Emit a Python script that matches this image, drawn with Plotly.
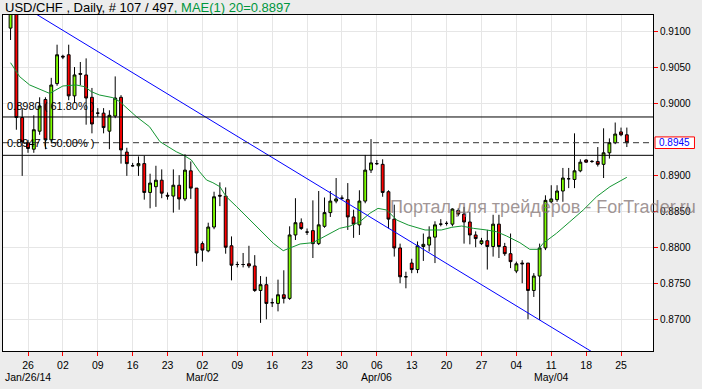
import plotly.graph_objects as go

# ---------------- data ----------------
bars = list(range(107))
open_ = [0.9104, 0.9128, 0.8980, 0.8945, 0.8936, 0.8961, 0.9005, 0.8949, 0.9027, 0.9065,
         0.9067, 0.9010, 0.9041, 0.9039, 0.9008, 0.8986, 0.8986, 0.8961, 0.8982, 0.9008,
         0.8932, 0.8913, 0.8913, 0.8916, 0.8876, 0.8884, 0.8893, 0.8872, 0.8871, 0.8886,
         0.8867, 0.8906, 0.8882, 0.8805, 0.8795, 0.8828, 0.8872, 0.8871, 0.8802, 0.8776,
         0.8776, 0.8777, 0.8774, 0.8740, 0.8748, 0.8723, 0.8722, 0.8734, 0.8729, 0.8817,
         0.8834, 0.8821, 0.8823, 0.8805, 0.8829, 0.8848, 0.8864, 0.8868, 0.8866, 0.8842,
         0.8831, 0.8864, 0.8907, 0.8916, 0.8915, 0.8877, 0.8839, 0.8799, 0.8759, 0.8778,
         0.8769, 0.8801, 0.8803, 0.8814, 0.8832, 0.8833, 0.8832, 0.8851, 0.8846, 0.8835,
         0.8817, 0.8805, 0.8809, 0.8801, 0.8832, 0.8801, 0.8791, 0.8767, 0.8778, 0.8778,
         0.8740, 0.8760, 0.8799, 0.8863, 0.8866, 0.8878, 0.8895, 0.8894, 0.8906, 0.8921,
         0.8919, 0.8919, 0.8915, 0.8931, 0.8945, 0.8960, 0.8956]
high = [0.9132, 0.9135, 0.8993, 0.8949, 0.8983, 0.9008, 0.9008, 0.9035, 0.9081, 0.9067,
        0.9081, 0.9050, 0.9057, 0.9062, 0.9021, 0.8993, 0.8993, 0.8990, 0.9037, 0.9011,
        0.8938, 0.8917, 0.8926, 0.8927, 0.8902, 0.8913, 0.8908, 0.8876, 0.8908, 0.8900,
        0.8929, 0.8919, 0.8882, 0.8808, 0.8834, 0.8877, 0.8890, 0.8883, 0.8815, 0.8780,
        0.8792, 0.8802, 0.8789, 0.8760, 0.8759, 0.8729, 0.8755, 0.8768, 0.8829, 0.8868,
        0.8840, 0.8826, 0.8865, 0.8878, 0.8869, 0.8878, 0.8896, 0.8872, 0.8889, 0.8852,
        0.8879, 0.8928, 0.8950, 0.8921, 0.8922, 0.8879, 0.8859, 0.8805, 0.8766, 0.8784,
        0.8808, 0.8819, 0.8829, 0.8836, 0.8839, 0.8836, 0.8854, 0.8854, 0.8856, 0.8849,
        0.8822, 0.8813, 0.8824, 0.8845, 0.8845, 0.8806, 0.8819, 0.8780, 0.8782, 0.8778,
        0.8764, 0.8805, 0.8872, 0.8886, 0.8886, 0.8910, 0.8910, 0.8958, 0.8922, 0.8922,
        0.8921, 0.8939, 0.8965, 0.8951, 0.8973, 0.8966, 0.8966]
low = [0.90875, 0.8963, 0.8899, 0.8931, 0.8931, 0.8956, 0.8936, 0.8945, 0.9024, 0.9061,
       0.9004, 0.9000, 0.9025, 0.8970, 0.8958, 0.8981, 0.8958, 0.8936, 0.8979, 0.8916,
       0.8899, 0.8912, 0.8899, 0.8866, 0.8854, 0.8856, 0.8868, 0.8866, 0.8848, 0.8852,
       0.8864, 0.8867, 0.8774, 0.8780, 0.8793, 0.8825, 0.8857, 0.8791, 0.8754, 0.8772,
       0.8772, 0.8771, 0.8738, 0.8695, 0.8700, 0.8717, 0.8711, 0.8722, 0.8727, 0.8810,
       0.8824, 0.8817, 0.8785, 0.8803, 0.8827, 0.8842, 0.8861, 0.8866, 0.8824, 0.8813,
       0.8817, 0.8861, 0.8903, 0.8914, 0.8870, 0.8826, 0.8787, 0.8750, 0.8743, 0.8764,
       0.8764, 0.8781, 0.8794, 0.8778, 0.8829, 0.8830, 0.8829, 0.8843, 0.8805, 0.8804,
       0.8800, 0.8803, 0.8769, 0.8787, 0.8785, 0.8788, 0.8771, 0.8764, 0.8750, 0.8700,
       0.8731, 0.8699, 0.8796, 0.8861, 0.8863, 0.8863, 0.8882, 0.8882, 0.8904, 0.8917,
       0.8917, 0.8912, 0.8896, 0.8923, 0.8943, 0.8954, 0.8939]
close = [0.9125, 0.8980, 0.8946, 0.8937, 0.8963, 0.8996, 0.8949, 0.9025, 0.9067, 0.9064,
         0.9010, 0.9039, 0.9040, 0.9007, 0.8971, 0.8986, 0.8966, 0.8983, 0.9007, 0.8935,
         0.8916, 0.8913, 0.8916, 0.8876, 0.8889, 0.8893, 0.8875, 0.8871, 0.8886, 0.8867,
         0.8907, 0.8882, 0.8792, 0.8796, 0.8828, 0.8870, 0.8871, 0.8800, 0.8775, 0.8776,
         0.8776, 0.8774, 0.8740, 0.8748, 0.8722, 0.8723, 0.8734, 0.8729, 0.8817, 0.8834,
         0.8826, 0.8821, 0.8805, 0.8831, 0.8848, 0.8864, 0.8867, 0.8868, 0.8842, 0.8832,
         0.8864, 0.8907, 0.8917, 0.8916, 0.8876, 0.8839, 0.8799, 0.8759, 0.8759, 0.8769,
         0.8802, 0.8804, 0.8814, 0.8831, 0.8832, 0.8833, 0.8853, 0.8846, 0.8835, 0.8817,
         0.8812, 0.8809, 0.8801, 0.8832, 0.8801, 0.8791, 0.8780, 0.8777, 0.8777, 0.8740,
         0.8760, 0.8799, 0.8865, 0.8867, 0.8878, 0.8896, 0.8895, 0.8906, 0.8918, 0.8918,
         0.8919, 0.8915, 0.8931, 0.8945, 0.8957, 0.8956, 0.8945]

# moving average (MAE(1) 20): bar position, value
ma_x = [0, 1.57, 3.29, 5.01, 6.73, 9.0, 11.3, 12.76, 13.9, 15.3, 17.6, 18.8, 21.65, 23.9,
        25.7, 28.5, 29.7, 31.1, 32.5, 33.7, 34.8, 36.0, 37.1, 38.9, 40.6, 42.9, 45.2, 46.9,
        48.0, 49.8, 52.0, 54.9, 56.6, 58.4, 60.1, 61.8, 63.2, 64.7, 66.4, 68.4, 71.3, 74.1,
        75.9, 77.6, 79.6, 81.9, 83.6, 85.3, 87.6, 89.3, 90.8, 91.6, 93.9, 96.2, 98.5, 100.8,
        103.1, 106]
ma_y = [0.9056, 0.90366, 0.90251, 0.90191, 0.90134, 0.90237, 0.90251, 0.90227, 0.90158,
        0.90112, 0.90075, 0.90019, 0.89811, 0.89672, 0.89464, 0.89325, 0.8928, 0.8921,
        0.89048, 0.88933, 0.88895, 0.8884, 0.88701, 0.88562, 0.88423, 0.88239, 0.88054,
        0.87952, 0.87985, 0.88045, 0.88063, 0.88193, 0.88262, 0.88294, 0.88354, 0.88471,
        0.88539, 0.88516, 0.88378, 0.88308, 0.88239, 0.88239, 0.88276, 0.88294, 0.88262,
        0.88239, 0.88215, 0.88156, 0.88063, 0.87971, 0.87971, 0.88054, 0.88193, 0.88354,
        0.88516, 0.88701, 0.8884, 0.8897]

# trend line anchors (bar position, price)
trend_x = [5.31, 91.0]
trend_y = [0.9119, 0.8699]

# horizontal levels
level_solid = [0.89807, 0.89275]
level_dashed = [0.8945]
fib_labels = ["0.8980 ( 61.80% )", "0.8947 ( 50.00% )"]
fib_label_y = [0.89807, 0.8945]

# axis ticks
tick_bars = [3, 9, 15, 21, 27, 33, 39, 45, 51, 57, 63, 69, 75, 81, 87, 93, 99, 105]
tick_text = ["26", "02", "09", "16", "23", "02", "09", "16", "23", "30",
             "06", "13", "20", "27", "04", "11", "18", "25"]
month_bars = [3, 33, 63, 93]
month_text = ["Jan/26/14", "Mar/02", "Apr/06", "May/04"]
price_ticks = [0.8700, 0.8750, 0.8800, 0.8850, 0.8900, 0.9000, 0.9050, 0.9100]
last_price = close[-1]

title_main = "USD/CHF , Daily, # 107 / 497"
title_ma = ", MAE(1) 20=0.8897"
watermark = "Портал для трейдеров - ForTrader.ru"

# ---------------- figure ----------------
XR = [-1.30, 110.5]
YR = [0.86560, 0.91222]

fig = go.Figure()

fig.add_trace(go.Scatter(
    x=ma_x, y=ma_y, mode="lines",
    line=dict(color="rgb(20,150,50)", width=1), hoverinfo="skip"))

# trend line extended across the plot (clipped by the axes)
slope = (trend_y[1] - trend_y[0]) / (trend_x[1] - trend_x[0])
tx = [XR[0] - 5, XR[1] + 5]
ty = [trend_y[0] + slope * (v - trend_x[0]) for v in tx]
fig.add_trace(go.Scatter(x=tx, y=ty, mode="lines",
                         line=dict(color="#0000FF", width=1), hoverinfo="skip"))

fig.add_trace(go.Candlestick(
    x=bars, open=open_, high=high, low=low, close=close,
    increasing=dict(fillcolor="#7FFF00", line=dict(color="black", width=1)),
    decreasing=dict(fillcolor="#FF0000", line=dict(color="black", width=1)),
    whiskerwidth=0, hoverinfo="skip"))

shapes = []
for lv in level_solid:
    shapes.append(dict(type="line", xref="paper", yref="y", x0=0, x1=1, y0=lv, y1=lv,
                       line=dict(color="black", width=1)))
for lv in level_dashed:
    shapes.append(dict(type="line", xref="paper", yref="y", x0=0, x1=1, y0=lv, y1=lv,
                       line=dict(color="#333333", width=1, dash="6px,4px")))

# price label box on the right axis
def ypaper(p):
    return (p - YR[0]) / (YR[1] - YR[0])

half_h = 5.8 / 336
shapes.append(dict(type="rect", xref="paper", yref="paper",
                   x0=1.0031, x1=1.0638,
                   y0=ypaper(last_price) - half_h, y1=ypaper(last_price) + half_h,
                   line=dict(color="red", width=1), fillcolor="white", layer="above"))

annotations = []
annotations.append(dict(xref="paper", yref="y", x=1.0334, y=last_price,
                        text=f"{last_price:.4f}", showarrow=False,
                        font=dict(family="Liberation Sans, Arial", size=10, color="blue"),
                        xanchor="center", yanchor="middle"))

for t, yv, sh in zip(fib_labels, fib_label_y, [11, 0]):
    annotations.append(dict(xref="paper", yref="y", x=0.003, y=yv, yshift=sh,
                            text=t, showarrow=False, xanchor="left", yanchor="middle",
                            font=dict(family="Liberation Sans, Arial", size=11, color="black")))

for mb, mt in zip(month_bars, month_text):
    annotations.append(dict(xref="x", yref="paper", x=mb, y=-0.0765, text=mt,
                            showarrow=False, xanchor="center", yanchor="middle",
                            font=dict(family="Liberation Sans, Arial", size=10.5, color="black")))

annotations.append(dict(xref="paper", yref="paper", x=0.0, y=1.0225, xanchor="left",
                        yanchor="middle", showarrow=False,
                        text=title_main + f"<span style='color:rgb(0,150,60)'>{title_ma}</span>",
                        font=dict(family="Liberation Sans Narrow, Liberation Sans, Arial",
                                  size=13, color="black")))

annotations.append(dict(xref="paper", yref="y", x=0.5923, y=0.88558, xanchor="left",
                        yanchor="middle", showarrow=False, text=watermark,
                        font=dict(family="Liberation Sans, Arial", size=18,
                                  color="rgba(130,115,115,0.75)")))

fig.update_layout(
    width=702, height=389,
    margin=dict(l=3, r=49, t=15, b=38),
    paper_bgcolor="#ECECEC", plot_bgcolor="white",
    showlegend=False,
    shapes=shapes, annotations=annotations,
    xaxis=dict(range=XR, rangeslider=dict(visible=False),
               tickmode="array", tickvals=tick_bars, ticktext=tick_text,
               ticks="outside", ticklen=4, tickcolor="red", tickwidth=1,
               showgrid=True, gridcolor="#E6E6E6", gridwidth=1,
               showline=True, linecolor="black", linewidth=1, mirror=True,
               zeroline=False,
               tickfont=dict(family="Liberation Sans, Arial", size=10.5, color="black")),
    yaxis=dict(range=YR, side="right", tickmode="array", tickvals=price_ticks,
               ticktext=[f"{v:.4f}" for v in price_ticks],
               ticks="outside", ticklen=4, tickcolor="red", tickwidth=1,
               showgrid=True, gridcolor="#E6E6E6", gridwidth=1,
               showline=True, linecolor="black", linewidth=1, mirror=True,
               zeroline=False,
               tickfont=dict(family="Liberation Sans, Arial", size=10, color="black")),
)

fig.write_html("out.html")
